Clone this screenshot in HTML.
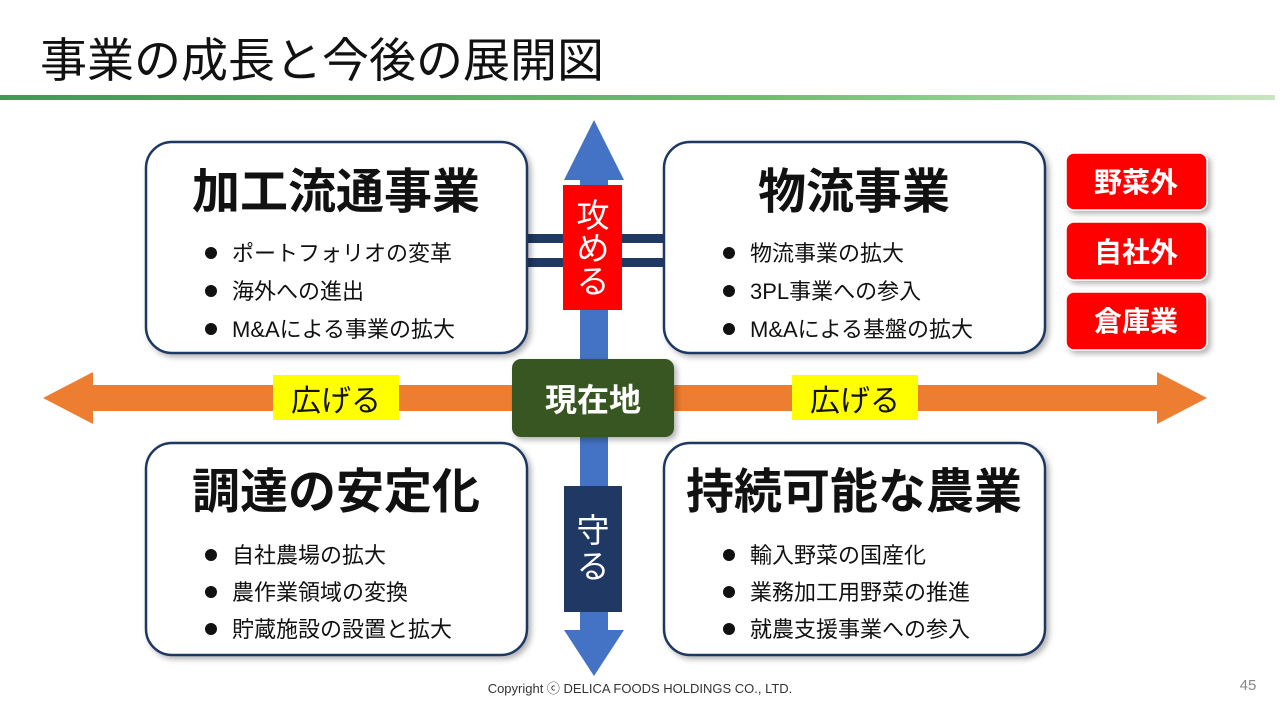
<!DOCTYPE html>
<html><head><meta charset="utf-8"><style>
body{margin:0;width:1280px;height:720px;background:#fff;overflow:hidden;font-family:"Liberation Sans","Noto Sans CJK JP",sans-serif;}
svg text{font-family:"Liberation Sans","Noto Sans CJK JP",sans-serif;}
</style></head><body>
<svg width="1280" height="720" viewBox="0 0 1280 720" xmlns="http://www.w3.org/2000/svg">
<defs>
<linearGradient id="gl" x1="0" x2="1"><stop offset="0" stop-color="#3e9a55"/><stop offset="0.6" stop-color="#6cbf6e"/><stop offset="1" stop-color="#c8e6c0"/></linearGradient>
<filter id="sh" x="-10%" y="-10%" width="130%" height="130%"><feDropShadow dx="3" dy="3" stdDeviation="3" flood-color="#000" flood-opacity="0.3"/></filter>
</defs>
<text x="40" y="77" font-size="47" fill="#111">事業の成長と今後の展開図</text>
<rect x="0" y="95" width="1275" height="5" fill="url(#gl)"/>

<rect x="580" y="170" width="28" height="470" fill="#4472c4"/>
<polygon points="594,120 624,180 564,180" fill="#4472c4"/>
<polygon points="594,676 624,630 564,630" fill="#4472c4"/>

<rect x="527" y="234" width="137" height="9" fill="#1f3864"/>
<rect x="527" y="258" width="137" height="9" fill="#1f3864"/>

<rect x="563" y="185" width="59" height="125" fill="#ff0000"/>
<text x="593" y="227" font-size="33" fill="#fff" text-anchor="middle">攻</text>
<text x="593" y="260" font-size="33" fill="#fff" text-anchor="middle">め</text>
<text x="593" y="293" font-size="33" fill="#fff" text-anchor="middle">る</text>

<rect x="564" y="486" width="58" height="126" fill="#1f3864"/>
<text x="593" y="542" font-size="33" fill="#fff" text-anchor="middle">守</text>
<text x="593" y="578" font-size="33" fill="#fff" text-anchor="middle">る</text>

<rect x="90" y="385" width="1070" height="26" fill="#ed7d31"/>
<polygon points="43,398 93,372 93,424" fill="#ed7d31"/>
<polygon points="1207,398 1157,372 1157,424" fill="#ed7d31"/>
<rect x="273" y="375" width="126" height="45" fill="#ffff00"/>
<text x="336" y="411" font-size="30" fill="#111" text-anchor="middle">広げる</text>
<rect x="792" y="375" width="126" height="45" fill="#ffff00"/>
<text x="855" y="411" font-size="30" fill="#111" text-anchor="middle">広げる</text>

<rect x="512" y="359" width="162" height="78" rx="9" fill="#375623" filter="url(#sh)"/>
<text x="593" y="411" font-size="32" font-weight="bold" fill="#fff" text-anchor="middle">現在地</text>

<g fill="#fff" stroke="#1f3864" stroke-width="2.5" filter="url(#sh)">
<rect x="146" y="142" width="381" height="211" rx="26"/>
<rect x="664" y="142" width="381" height="211" rx="26"/>
<rect x="146" y="443" width="381" height="212" rx="26"/>
<rect x="664" y="443" width="381" height="212" rx="26"/>
</g>
<g font-size="48" font-weight="bold" fill="#111" text-anchor="middle">
<text x="336" y="208">加工流通事業</text>
<text x="854" y="208">物流事業</text>
<text x="336" y="508">調達の安定化</text>
<text x="854" y="508">持続可能な農業</text>
</g>
<g fill="#111">
<circle cx="211" cy="253" r="6"/><circle cx="211" cy="291" r="6"/><circle cx="211" cy="329" r="6"/>
<circle cx="729" cy="253" r="6"/><circle cx="729" cy="291" r="6"/><circle cx="729" cy="329" r="6"/>
<circle cx="211" cy="555" r="6"/><circle cx="211" cy="592" r="6"/><circle cx="211" cy="629" r="6"/>
<circle cx="729" cy="555" r="6"/><circle cx="729" cy="592" r="6"/><circle cx="729" cy="629" r="6"/>
</g>
<g font-size="22" fill="#111">
<text x="232" y="261">ポートフォリオの変革</text>
<text x="232" y="299">海外への進出</text>
<text x="232" y="337">M&amp;Aによる事業の拡大</text>
<text x="750" y="261">物流事業の拡大</text>
<text x="750" y="299">3PL事業への参入</text>
<text x="750" y="337">M&amp;Aによる基盤の拡大</text>
<text x="232" y="563">自社農場の拡大</text>
<text x="232" y="600">農作業領域の変換</text>
<text x="232" y="637">貯蔵施設の設置と拡大</text>
<text x="750" y="563">輸入野菜の国産化</text>
<text x="750" y="600">業務加工用野菜の推進</text>
<text x="750" y="637">就農支援事業への参入</text>
</g>

<g fill="#ff0000" stroke="#fff" stroke-width="1.5" filter="url(#sh)">
<rect x="1066" y="153" width="141" height="57" rx="8"/>
<rect x="1066" y="222" width="141" height="58" rx="8"/>
<rect x="1066" y="292" width="141" height="58" rx="8"/>
</g>
<g font-size="28" font-weight="bold" fill="#fff" text-anchor="middle">
<text x="1136" y="192">野菜外</text>
<text x="1136" y="262">自社外</text>
<text x="1136" y="331">倉庫業</text>
</g>

<text x="640" y="693" font-size="13" fill="#333" text-anchor="middle">Copyright ⓒ DELICA FOODS HOLDINGS CO., LTD.</text>
<text x="1248" y="690" font-size="15" fill="#888" text-anchor="middle">45</text>
</svg>
</body></html>
